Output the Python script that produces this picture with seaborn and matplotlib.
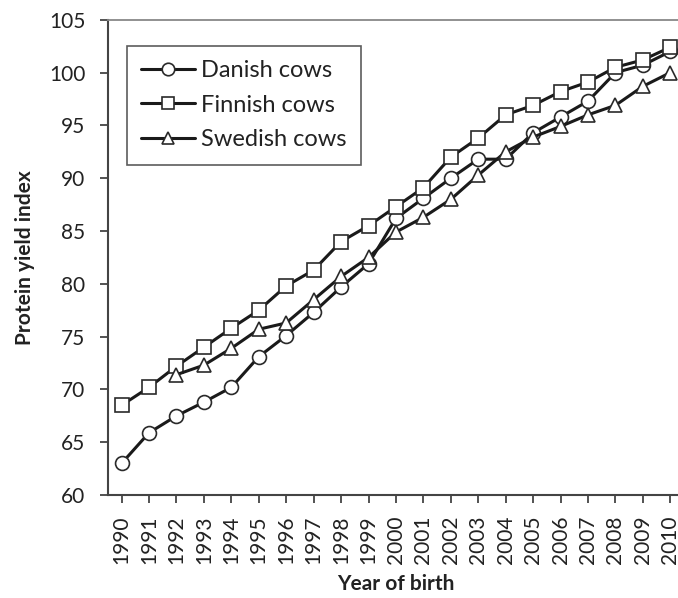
import pandas as pd
import seaborn as sns
import matplotlib.pyplot as plt

years = list(range(1990, 2011))
danish = [63.0, 65.9, 67.5, 68.8, 70.2, 73.1, 75.1, 77.3, 79.7, 81.9,
          86.2, 88.1, 90.0, 91.8, 91.8, 94.3, 95.8, 97.3, 100.0, 100.7, 102.0]
finnish = [68.5, 70.2, 72.2, 74.0, 75.8, 77.5, 79.8, 81.3, 84.0, 85.5,
           87.3, 89.1, 92.0, 93.8, 96.0, 96.9, 98.2, 99.1, 100.5, 101.2, 102.4]
swedish = [None, None, 71.4, 72.3, 73.9, 75.7, 76.3, 78.5, 80.7, 82.5,
           84.9, 86.3, 88.0, 90.3, 92.5, 93.9, 94.9, 96.0, 96.9, 98.7, 100.0]
series_names = ["Danish cows", "Finnish cows", "Swedish cows"]

df = pd.DataFrame({
    "year": years * 3,
    "value": danish + finnish + swedish,
    "breed": [series_names[0]] * 21 + [series_names[1]] * 21 + [series_names[2]] * 21,
}).dropna()

sns.set_style("ticks")
plt.rcParams['font.family'] = ['Lato', 'DejaVu Sans']

fig = plt.figure(figsize=(6.78, 5.98), dpi=100)
ax = fig.add_axes([0.159, 0.172, 0.85, 0.795])

sns.lineplot(
    data=df, x="year", y="value", style="breed",
    markers={"Danish cows": "o", "Finnish cows": "s", "Swedish cows": "^"},
    dashes=False, color="#1a1a1a", linewidth=2.2,
    markersize=10, markerfacecolor="white", markeredgecolor="#2a2a2a",
    markeredgewidth=1.2, ax=ax
)

ax.set_xlim(1989.5, 2010.5)
ax.set_ylim(60, 105)
ax.set_yticks(range(60, 106, 5))
ax.set_xticks(years)
ax.set_xticklabels([str(y) for y in years], rotation=90)
ax.tick_params(axis="both", labelsize=15, labelcolor="#222222",
               color="#444444", length=6, width=1.3)
ax.tick_params(axis="x", pad=9)
ax.tick_params(axis="y", pad=10)

for side in ["left", "bottom"]:
    ax.spines[side].set_color("#444444")
    ax.spines[side].set_linewidth(1.5)
ax.spines["top"].set_color("#888888")
ax.spines["top"].set_linewidth(1.3)
ax.spines["right"].set_visible(False)

ax.set_xlabel("Year of birth", fontsize=15, fontweight="bold",
              color="#222222", labelpad=7)
ax.set_ylabel("Protein yield index", fontsize=15, fontweight="bold",
              color="#222222", labelpad=10)

leg = ax.legend(
    title=None, loc="upper left", bbox_to_anchor=(0.033, 0.945),
    borderaxespad=0, fontsize=17, frameon=True, fancybox=False,
    edgecolor="#333333", handlelength=2.3, handletextpad=0.25,
    borderpad=0.6, labelspacing=0.58
)
leg.get_frame().set_linewidth(1.2)
for t in leg.get_texts():
    t.set_color("#222222")
for h in leg.get_lines():
    h.set_markerfacecolor("white")
    h.set_markersize(9)

fig.savefig("out.png", dpi=100)
